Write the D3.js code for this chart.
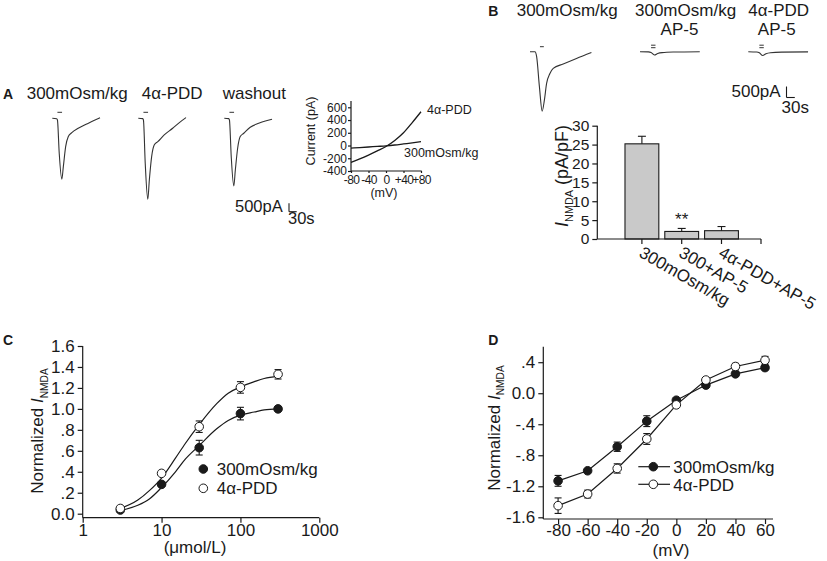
<!DOCTYPE html>
<html>
<head>
<meta charset="utf-8">
<script src="https://cdn.jsdelivr.net/npm/d3@7"></script>
<style>
  body { margin: 0; background: #fff; }
  svg { font-family: "Liberation Sans", Arial, sans-serif; }
</style>
</head>
<body>
<div id="fig"></div>
<script>
// ---- data ----
// A: NMDA current traces (time in s, current in pA)
const traceTimeA = [0, 17, 20, 27, 37, 43, 52, 62, 76, 101, 134, 160, 186];
const traceCtrlA = [0, -24, -100, -2080, -3630, -2880, -1690, -1095, -857, -595, -340, -143, 36];
const tracePddA = [0, -20, -100, -2680, -4820, -3670, -2280, -1590, -1390, -990, -595, -256, 42];
const traceWashA = [0, -20, -100, -2280, -4030, -3080, -1785, -1090, -890, -535, -300, -160, -60];
const traceTitlesA = ["300mOsm/kg", "4α-PDD", "washout"];

// A inset: I-V relation
const ivVoltage = [-80, -60, -40, -20, 0, 20, 40, 60, 80];
const ivCtrl = [-40, -32, -23, -14, -5, 8, 25, 42, 60];
const ivPdd = [-265, -210, -150, -85, -15, 80, 200, 360, 530];
const ivTicksY = [-400, -200, 0, 200, 400, 600];
const ivTicksX = [-80, -40, 0, 40, 80];
const ivTickLabelsX = ["-80", "-40", "0", "+40", "+80"];

// B: traces
const traceTimeB = [0, 18, 24, 34, 44, 52, 60, 72, 84, 120, 168, 222];
const traceCtrlB = [0, 0, -228, -1590, -2700, -2200, -1440, -990, -760, -560, -305, -32];
const traceTimeBap = [0, 30, 40, 52, 64, 80, 120, 216];
const traceCtrlApB = [0, -10, -40, -150, -80, -40, -15, 0];
const tracePddApB = [0, -15, -50, -170, -90, -45, -20, -10];

// B: bar chart
const barCats = ["300mOsm/kg", "300+AP-5", "4α-PDD+AP-5"];
const barVals = [25.2, 2.0, 2.2];
const barErr = [2.0, 0.8, 1.1];
const barTicks = [0, 5, 10, 15, 20, 25, 30];

// C: concentration-response
const concC = [3, 10, 30, 100, 300];
const ctrlC = [0.035, 0.28, 0.63, 0.955, 1.0];
const ctrlCErr = [0.01, 0.02, 0.07, 0.06, 0.01];
const pddC = [0.05, 0.385, 0.83, 1.205, 1.33];
const pddCErr = [0.02, 0.02, 0.055, 0.055, 0.045];
const fitConc = [3, 5, 7, 10, 15, 20, 30, 50, 70, 100, 150, 200, 300];
const fitCtrl = [0.03, 0.08, 0.14, 0.25, 0.40, 0.52, 0.65, 0.81, 0.89, 0.94, 0.97, 0.99, 1.0];
const fitPdd = [0.05, 0.13, 0.22, 0.34, 0.53, 0.67, 0.85, 1.05, 1.15, 1.21, 1.26, 1.29, 1.31];
const cTicksY = [0, 0.2, 0.4, 0.6, 0.8, 1.0, 1.2, 1.4, 1.6];
const cTickLabelsY = ["0.0", ".2", ".4", ".6", ".8", "1.0", "1.2", "1.4", "1.6"];
const cTicksX = [1, 10, 100, 1000];

// D: I-V normalized
const voltD = [-80, -60, -40, -20, 0, 20, 40, 60];
const ctrlD = [-1.13, -1.00, -0.69, -0.36, -0.09, 0.105, 0.25, 0.33];
const ctrlDErr = [0.07, 0.02, 0.06, 0.07, 0.02, 0.03, 0.03, 0.03];
const pddD = [-1.45, -1.30, -0.97, -0.59, -0.15, 0.17, 0.345, 0.425];
const pddDErr = [0.10, 0.05, 0.06, 0.07, 0.02, 0.03, 0.04, 0.05];
const dTicksY = [-1.6, -1.2, -0.8, -0.4, 0, 0.4];
const dTickLabelsY = ["-1.6", "-1.2", "-.8", "-.4", "0.0", ".4"];
const dTicksX = [-80, -60, -40, -20, 0, 20, 40, 60];

const legendNames = ["300mOsm/kg", "4α-PDD"];

// ---- drawing ----
const ink = "#1a1a1a";
const svg = d3.select("#fig").append("svg")
    .attr("width", 827)
    .attr("height", 561);

function text(x, y, s, size, extra) {
    const t = svg.append("text").attr("x", x).attr("y", y)
        .attr("font-size", size).attr("fill", ink).text(s);
    if (extra) extra(t);
    return t;
}
function hline(x1, x2, y, w) {
    svg.append("line").attr("x1", x1).attr("x2", x2).attr("y1", y).attr("y2", y)
        .attr("stroke", ink).attr("stroke-width", w || 1.2);
}
function vline(x, y1, y2, w) {
    svg.append("line").attr("x1", x).attr("x2", x).attr("y1", y1).attr("y2", y2)
        .attr("stroke", ink).attr("stroke-width", w || 1.2);
}
function styleAxis(g, size) {
    g.select(".domain").remove();
    g.selectAll(".tick line").attr("stroke", ink).attr("stroke-width", 1.2);
    g.selectAll(".tick text").attr("fill", ink).attr("font-size", size)
        .attr("font-family", "Liberation Sans, Arial, sans-serif");
    return g;
}
// plain hyphen minus like the original figure
const plain = d => String(d);

// rotated y label "... I_NMDA ..."
function nmdaLabel(x, y, prefix, suffix, size) {
    const t = svg.append("text")
        .attr("transform", `translate(${x},${y}) rotate(-90)`)
        .attr("text-anchor", "middle").attr("font-size", size).attr("fill", ink);
    if (prefix) t.append("tspan").text(prefix);
    t.append("tspan").attr("font-style", "italic").text("I");
    t.append("tspan").attr("font-size", size * 0.6).attr("dy", size * 0.25).text("NMDA");
    if (suffix) t.append("tspan").attr("dy", -size * 0.25).text(suffix);
}

// trace helper: scales in px per second and px per pA
function traceScales(x0, y0, secPx, paPx) {
    return {
        x: d3.scaleLinear().domain([0, 1]).range([x0, x0 + secPx]),
        y: d3.scaleLinear().domain([0, 1]).range([y0, y0 - paPx])
    };
}
function drawTrace(s, t, cur) {
    svg.append("path")
        .datum(d3.zip(t, cur))
        .attr("fill", "none")
        .attr("stroke", "#333")
        .attr("stroke-width", 1.1)
        .attr("d", d3.line().x(d => s.x(d[0])).y(d => s.y(d[1])).curve(d3.curveMonotoneX));
}
function drawMarker(s, t0, t1, dyList) {
    dyList.forEach(dy => {
        svg.append("line")
            .attr("x1", s.x(t0)).attr("x2", s.x(t1))
            .attr("y1", s.y(0) - dy).attr("y2", s.y(0) - dy)
            .attr("stroke", "#333").attr("stroke-width", 1);
    });
}
function scaleBar(s, tLen, iLen) {
    vline(s.x(0), s.y(0), s.y(iLen), 1.1);
    hline(s.x(0), s.x(tLen), s.y(0), 1.1);
}

// ---------- Panel A ----------
text(3, 99, "A", 14, t => t.attr("font-weight", "bold"));
[26.7, 141.7, 222.7].forEach((x, i) => text(x, 99, traceTitlesA[i], 17));

const aSec = 7.7 / 30, aPa = 8.4 / 500;
[traceCtrlA, tracePddA, traceWashA].forEach((cur, i) => {
    const s = traceScales([52.3, 138.3, 224.3][i], 118.3, aSec, aPa);
    drawTrace(s, traceTimeA, cur);
    drawMarker(s, 20, 38, [6]);
});
scaleBar(traceScales(289, 211.7, aSec, aPa), 30, 500);
text(235, 211.7, "500pA", 16.5);
text(288, 223.5, "30s", 16.5);

// inset I-V
const ivx = d3.scaleLinear().domain([-80, 80]).range([351, 421]);
const ivy = d3.scaleLinear().domain([-400, 600]).range([171, 107.3]);
vline(351, ivy(700), 171);
hline(351, 421.7, 171);
styleAxis(svg.append("g").attr("transform", "translate(351,0)")
    .call(d3.axisLeft(ivy).tickValues(ivTicksY).tickSize(3).tickPadding(1).tickFormat(plain)), 12);
styleAxis(svg.append("g").attr("transform", "translate(0,171)")
    .call(d3.axisBottom(ivx).tickValues(ivTicksX).tickSize(2).tickPadding(2.5)
        .tickFormat((d, i) => ivTickLabelsX[i])), 12)
    .selectAll(".tick text").attr("letter-spacing", -0.6);
const ivLine = d3.line().x(d => ivx(d[0])).y(d => ivy(d[1])).curve(d3.curveMonotoneX);
svg.append("path").datum(d3.zip(ivVoltage, ivPdd)).attr("d", ivLine)
    .attr("fill", "none").attr("stroke", ink).attr("stroke-width", 1.3);
svg.append("path").datum(d3.zip(ivVoltage, ivCtrl)).attr("d", ivLine)
    .attr("fill", "none").attr("stroke", ink).attr("stroke-width", 1.3);
text(427, 114, "4α-PDD", 12.5);
text(404, 156.5, "300mOsm/kg", 12.5);
text(384, 197, "(mV)", 12.5, t => t.attr("text-anchor", "middle"));
svg.append("text").attr("transform", "translate(315,131) rotate(-90)")
    .attr("text-anchor", "middle").attr("font-size", 12.5).attr("fill", ink).text("Current (pA)");

// ---------- Panel B ----------
text(488.3, 16, "B", 14, t => t.attr("font-weight", "bold"));
text(516.7, 16, "300mOsm/kg", 17);
text(635, 16, "300mOsm/kg", 17);
text(748.3, 16, "4α-PDD", 17);
text(679.5, 35, "AP-5", 17, t => t.attr("text-anchor", "middle"));
text(776.7, 35, "AP-5", 17, t => t.attr("text-anchor", "middle"));

const bSec = 8.3 / 30, bPa = 11 / 500;
const sB1 = traceScales(530, 51.7, bSec, bPa);
drawTrace(sB1, traceTimeB, traceCtrlB);
drawMarker(sB1, 36, 50, [5]);
const sB2 = traceScales(640, 51.7, bSec, bPa);
drawTrace(sB2, traceTimeBap, traceCtrlApB);
drawMarker(sB2, 40, 56, [4, 6.5]);
const sB3 = traceScales(748.3, 51.7, bSec, bPa);
drawTrace(sB3, traceTimeBap, tracePddApB);
drawMarker(sB3, 40, 56, [4, 6.5]);
scaleBar(traceScales(786.5, 97.5, bSec, bPa), 30, 500);
text(731.5, 97.3, "500pA", 17);
text(781.5, 113.3, "30s", 17);

// bar chart
const by = d3.scaleLinear().domain([0, 30]).range([239, 125.7]);
const bx = d3.scaleBand().domain(barCats).range([622, 741.4]).paddingInner(0.15).paddingOuter(0.075);
svg.append("g").selectAll("rect").data(barCats).enter().append("rect")
    .attr("x", d => bx(d))
    .attr("y", (d, i) => by(barVals[i]))
    .attr("width", bx.bandwidth())
    .attr("height", (d, i) => by(0) - by(barVals[i]))
    .attr("fill", "#c9c9c9").attr("stroke", ink).attr("stroke-width", 1.1);
barCats.forEach((c, i) => {
    const cx = bx(c) + bx.bandwidth() / 2;
    vline(cx, by(barVals[i]), by(barVals[i] + barErr[i]), 1.1);
    hline(cx - 4, cx + 4, by(barVals[i] + barErr[i]), 1.1);
    vline(cx, 239, 244);
    svg.append("text")
        .attr("transform", `translate(${cx - 4},256) rotate(30)`)
        .attr("font-size", 17).attr("fill", ink).text(c);
});
vline(761, 239, 244);
vline(597.3, 125.7, 239);
hline(597.3, 761, 239);
styleAxis(svg.append("g").attr("transform", "translate(597.3,0)")
    .call(d3.axisLeft(by).tickValues(barTicks).tickSize(5).tickPadding(3)), 15.5);
text(bx(barCats[1]) + bx.bandwidth() / 2, 225, "**", 17, t => t.attr("text-anchor", "middle"));
nmdaLabel(568, 176, null, " (pA/pF)", 18);

// ---------- Panel C ----------
text(3, 345, "C", 14, t => t.attr("font-weight", "bold"));
const cx = d3.scaleLog().domain([1, 1000]).range([82.7, 319.3]);
const cy = d3.scaleLinear().domain([0, 1.6]).range([513.7, 346]);
vline(82.7, 346, 517.7);
hline(82.7, 319.3, 517.7);
styleAxis(svg.append("g").attr("transform", "translate(82.7,0)")
    .call(d3.axisLeft(cy).tickValues(cTicksY).tickSize(5).tickPadding(3)
        .tickFormat((d, i) => cTickLabelsY[i])), 17);
styleAxis(svg.append("g").attr("transform", "translate(0,517.7)")
    .call(d3.axisBottom(cx).tickValues(cTicksX).tickSize(5).tickPadding(1)
        .tickFormat(d3.format("d"))), 17);

const cLine = d3.line().x(d => cx(d[0])).y(d => cy(d[1])).curve(d3.curveMonotoneX);
[fitPdd, fitCtrl].forEach(f => {
    svg.append("path").datum(d3.zip(fitConc, f)).attr("d", cLine)
        .attr("fill", "none").attr("stroke", ink).attr("stroke-width", 1.2);
});
function errPoints(xs, ys, es, xScale, yScale, filled) {
    xs.forEach((x, i) => {
        const px = xScale(x);
        vline(px, yScale(ys[i] - es[i]), yScale(ys[i] + es[i]), 1.1);
        hline(px - 3.5, px + 3.5, yScale(ys[i] - es[i]), 1.1);
        hline(px - 3.5, px + 3.5, yScale(ys[i] + es[i]), 1.1);
    });
    svg.append("g").selectAll("circle").data(xs).enter().append("circle")
        .attr("cx", d => xScale(d))
        .attr("cy", (d, i) => yScale(ys[i]))
        .attr("r", 4.3)
        .attr("fill", filled ? ink : "#fff")
        .attr("stroke", ink).attr("stroke-width", 1);
}
errPoints(concC, ctrlC, ctrlCErr, cx, cy, true);
errPoints(concC, pddC, pddCErr, cx, cy, false);

[469, 488.3].forEach((y, i) => {
    svg.append("circle").attr("cx", 203.3).attr("cy", y).attr("r", 4.3)
        .attr("fill", i === 0 ? ink : "#fff").attr("stroke", ink).attr("stroke-width", 1);
    text(216.7, y + 6, legendNames[i], 17);
});
text(195, 553, "(μmol/L)", 17, t => t.attr("text-anchor", "middle"));
nmdaLabel(43.3, 431, "Normalized ", null, 17);

// ---------- Panel D ----------
text(488.3, 345, "D", 14, t => t.attr("font-weight", "bold"));
const dx = d3.scaleLinear().domain([-90, 65.4]).range([543.3, 773]);
const dy = d3.scaleLinear().domain([-1.6, 0.6]).range([517.3, 346.7]);
vline(543.3, 346.7, 519);
hline(543.3, 773, 519);
styleAxis(svg.append("g").attr("transform", "translate(543.3,0)")
    .call(d3.axisLeft(dy).tickValues(dTicksY).tickSize(5).tickPadding(3)
        .tickFormat((d, i) => dTickLabelsY[i])), 17);
styleAxis(svg.append("g").attr("transform", "translate(0,519)")
    .call(d3.axisBottom(dx).tickValues(dTicksX).tickSize(5).tickPadding(0).tickFormat(plain)), 17);

const dLine = d3.line().x(d => dx(d[0])).y(d => dy(d[1]));
[ctrlD, pddD].forEach(v => {
    svg.append("path").datum(d3.zip(voltD, v)).attr("d", dLine)
        .attr("fill", "none").attr("stroke", ink).attr("stroke-width", 1.2);
});
errPoints(voltD, ctrlD, ctrlDErr, dx, dy, true);
errPoints(voltD, pddD, pddDErr, dx, dy, false);

[466.7, 484.3].forEach((y, i) => {
    hline(638.3, 670, y, 1.2);
    svg.append("circle").attr("cx", 653.3).attr("cy", y).attr("r", 4.3)
        .attr("fill", i === 0 ? ink : "#fff").attr("stroke", ink).attr("stroke-width", 1);
    text(673.3, y + 6.3, legendNames[i], 17);
});
text(671, 556, "(mV)", 17, t => t.attr("text-anchor", "middle"));
nmdaLabel(500, 428, "Normalized ", null, 17);
</script>
</body>
</html>
